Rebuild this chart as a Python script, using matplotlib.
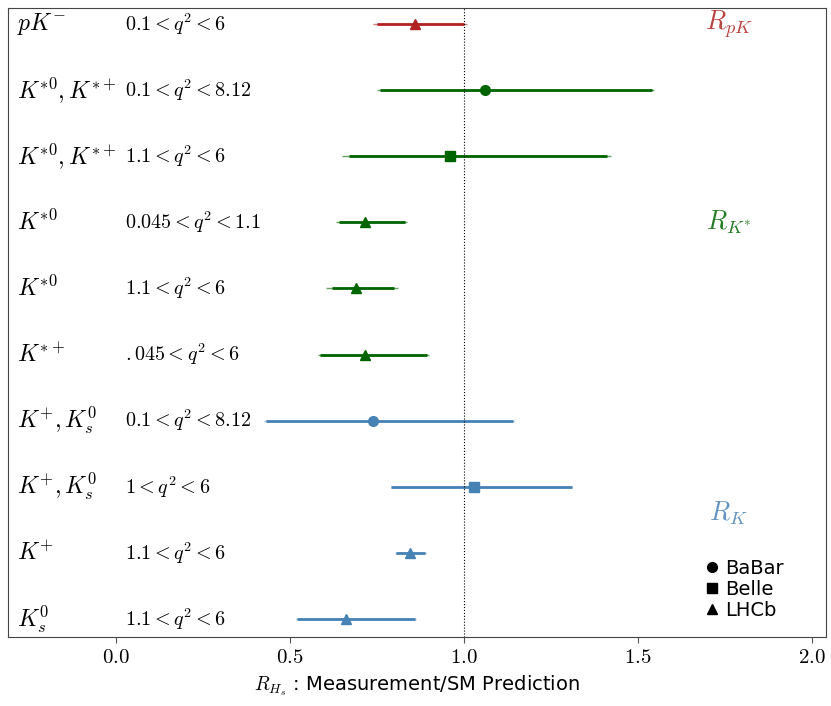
import numpy as np
import matplotlib
matplotlib.use("Agg")
import matplotlib.pyplot as plt
from matplotlib.lines import Line2D

plt.rcParams["mathtext.fontset"] = "cm"

# one row per measurement, top to bottom
hadrons = [r"$pK^{-}$", r"$K^{*0},K^{*+}$", r"$K^{*0},K^{*+}$", r"$K^{*0}$", r"$K^{*0}$",
           r"$K^{*+}$", r"$K^{+},K^{0}_{s}$", r"$K^{+},K^{0}_{s}$", r"$K^{+}$", r"$K^{0}_{s}$"]
q2_bins = [r"$0.1<q^2<6$", r"$0.1<q^2<8.12$", r"$1.1<q^2<6$", r"$0.045<q^2<1.1$",
           r"$1.1<q^2<6$", r"$.045<q^2<6$", r"$0.1<q^2<8.12$", r"$1<q^2<6$",
           r"$1.1<q^2<6$", r"$1.1<q^2<6$"]
experiment = ["LHCb", "BaBar", "Belle", "LHCb", "LHCb", "LHCb", "BaBar", "Belle", "LHCb", "LHCb"]
group = ["pK", "Kstar", "Kstar", "Kstar", "Kstar", "Kstar", "K", "K", "K", "K"]
value = [0.86, 1.06, 0.96, 0.717, 0.69, 0.715, 0.74, 1.03, 0.846, 0.66]
stat_lo = [0.11, 0.30, 0.29, 0.075, 0.07, 0.13, 0.31, 0.24, 0.042, 0.14]
stat_hi = [0.14, 0.48, 0.45, 0.113, 0.11, 0.18, 0.40, 0.28, 0.043, 0.20]
syst = [0.05, 0.08, 0.11, 0.04, 0.05, 0.035, 0.06, 0.01, 0.015, 0.03]

colors = {"pK": "#b22222", "Kstar": "#006400", "K": "#4682b4"}
markers = {"BaBar": "o", "Belle": "s", "LHCb": "^"}
group_labels = [("pK", r"$R_{pK}$", 9.0), ("Kstar", r"$R_{K^{*}}$", 6.0), ("K", r"$R_{K}$", 1.6)]

value = np.array(value)
stat_lo = np.array(stat_lo)
stat_hi = np.array(stat_hi)
syst = np.array(syst)
tot_lo = np.sqrt(stat_lo**2 + syst**2)
tot_hi = np.sqrt(stat_hi**2 + syst**2)

n = len(value)
ypos = np.arange(n)[::-1]

fig = plt.figure(figsize=(8.31, 7.06), dpi=100)
ax = fig.add_axes([0.0096, 0.0977, 0.9844, 0.891])

for i in range(n):
    c = colors[group[i]]
    # total uncertainty (thin), then statistical (thick) with the central value
    ax.errorbar(value[i], ypos[i], xerr=[[tot_lo[i]], [tot_hi[i]]], fmt="none",
                ecolor=c, elinewidth=1.0, alpha=0.6, capsize=0)
    ax.errorbar(value[i], ypos[i], xerr=[[stat_lo[i]], [stat_hi[i]]],
                fmt=markers[experiment[i]], color=c, ms=7, elinewidth=2.0, capsize=0)
    ax.text(-0.285, ypos[i], hadrons[i], fontsize=17, va="center", ha="left")
    ax.text(0.025, ypos[i], q2_bins[i], fontsize=14.5, va="center", ha="left")

for g, lab, y in group_labels:
    ax.text(1.76, y, lab, fontsize=19, color=colors[g], alpha=0.85, ha="center", va="center")

ax.axvline(1.0, color="k", ls=":", lw=0.8)

ax.set_xlim(-0.31, 2.04)
ax.set_ylim(-0.27, 9.24)
ax.set_yticks([])
xt = [0.0, 0.5, 1.0, 1.5, 2.0]
ax.set_xticks(xt)
ax.set_xticklabels(["$%.1f$" % t for t in xt], fontsize=15)
ax.tick_params(axis="x", length=4, color="#555555")
for s in ax.spines.values():
    s.set_color("#444444")
ax.set_xlabel(r"$R_{H_s}$ : Measurement/SM Prediction", fontsize=14)

handles = [Line2D([], [], ls="none", marker=markers[e], color="k", ms=7) for e in markers]
ax.legend(handles, list(markers), loc="lower right", bbox_to_anchor=(0.97, 0.0),
          frameon=False, fontsize=14, handletextpad=0.1, handlelength=1.2, labelspacing=0.1)

fig.savefig("out.png", dpi=100)
